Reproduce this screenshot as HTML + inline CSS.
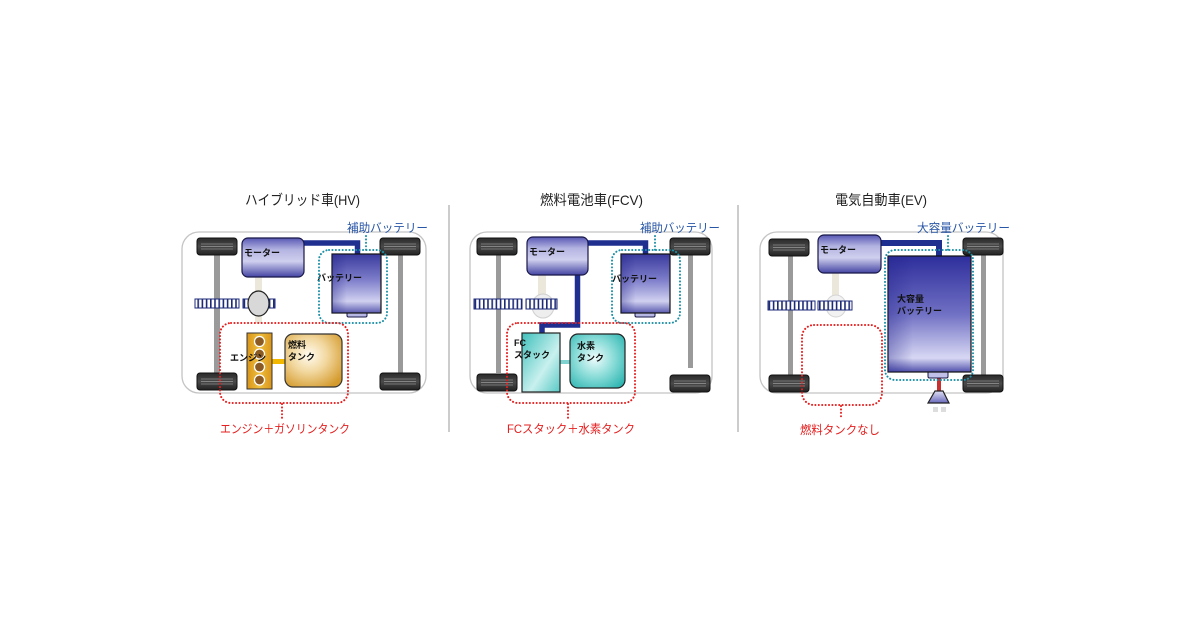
<!DOCTYPE html>
<html><head><meta charset="utf-8">
<style>
html,body{margin:0;padding:0;background:#fff;}
svg{display:block;}
text{font-family:"Liberation Sans","Noto Sans CJK JP",sans-serif;}
.t{font-size:14px;fill:#222;}
.lb{font-size:12px;fill:#2856a6;}
.lr{font-size:12px;fill:#e61e1e;}
.in{font-size:9px;font-weight:bold;fill:#111;}
</style></head>
<body>
<svg width="1200" height="630" viewBox="0 0 1200 630" xmlns="http://www.w3.org/2000/svg">
<defs>
  <linearGradient id="mot" x1="0" y1="0" x2="0" y2="1">
    <stop offset="0" stop-color="#5858b4"/><stop offset="0.3" stop-color="#b4b4e2"/>
    <stop offset="0.6" stop-color="#cfcfee"/><stop offset="1" stop-color="#4444a4"/>
  </linearGradient>
  <linearGradient id="bat" x1="0" y1="0" x2="0" y2="1">
    <stop offset="0" stop-color="#3a3a9e"/><stop offset="0.45" stop-color="#8080cc"/>
    <stop offset="0.8" stop-color="#d0d0f0"/><stop offset="1" stop-color="#5a5ab0"/>
  </linearGradient>
  <linearGradient id="batx" x1="0" y1="0" x2="1" y2="0">
    <stop offset="0" stop-color="#20208a" stop-opacity="0.35"/><stop offset="0.3" stop-color="#20208a" stop-opacity="0"/>
  </linearGradient>
  <linearGradient id="big" x1="0" y1="0" x2="0" y2="1">
    <stop offset="0" stop-color="#2e2e9c"/><stop offset="0.5" stop-color="#7070c4"/>
    <stop offset="0.88" stop-color="#d8d8f4"/><stop offset="1" stop-color="#5050ac"/>
  </linearGradient>
  <linearGradient id="eng" x1="0" y1="0" x2="1" y2="0">
    <stop offset="0" stop-color="#d89418"/><stop offset="0.5" stop-color="#f0c040"/><stop offset="1" stop-color="#d89418"/>
  </linearGradient>
  <radialGradient id="ftank" cx="0.42" cy="0.4" r="0.7">
    <stop offset="0" stop-color="#fffbf0"/><stop offset="0.45" stop-color="#f2d8a0"/><stop offset="1" stop-color="#d49a2c"/>
  </radialGradient>
  <radialGradient id="htank" cx="0.45" cy="0.45" r="0.7">
    <stop offset="0" stop-color="#eefcfc"/><stop offset="0.5" stop-color="#8adcd8"/><stop offset="1" stop-color="#2cb4b0"/>
  </radialGradient>
  <linearGradient id="fc" x1="0" y1="0" x2="1" y2="1">
    <stop offset="0" stop-color="#40c0bc"/><stop offset="0.6" stop-color="#c8f0ee"/><stop offset="1" stop-color="#58c8c4"/>
  </linearGradient>
  <linearGradient id="tire" x1="0" y1="0" x2="0" y2="1">
    <stop offset="0" stop-color="#2a2a2a"/><stop offset="0.5" stop-color="#4a4a4a"/><stop offset="1" stop-color="#222"/>
  </linearGradient>
  <linearGradient id="cone" x1="0" y1="0" x2="0" y2="1">
    <stop offset="0" stop-color="#e0e0f6"/><stop offset="1" stop-color="#6a6abc"/>
  </linearGradient>
  <pattern id="gear" width="4.2" height="10" patternUnits="userSpaceOnUse">
    <rect width="4.2" height="10" fill="#fff"/><rect width="1.6" height="10" fill="#1c2a78"/>
  </pattern>
  <g id="tireG">
    <rect x="0" y="0" width="40" height="17" rx="3" fill="url(#tire)" stroke="#111" stroke-width="1"/>
    <line x1="4" y1="6" x2="36" y2="6" stroke="#888" stroke-width="0.8"/>
    <line x1="4" y1="8.5" x2="36" y2="8.5" stroke="#999" stroke-width="0.8"/>
    <line x1="4" y1="11" x2="36" y2="11" stroke="#888" stroke-width="0.8"/>
  </g>
</defs>

<!-- dividers -->
<line x1="449" y1="205" x2="449" y2="432" stroke="#bbb" stroke-width="1.5"/>
<line x1="738" y1="205" x2="738" y2="432" stroke="#bbb" stroke-width="1.5"/>

<!-- ================= PANEL 1 HV ================= -->
<text class="t" x="245" y="205" textLength="115" lengthAdjust="spacingAndGlyphs">ハイブリッド車(HV)</text>
<rect x="182" y="232" width="244" height="161" rx="17" fill="#fff" stroke="#c4c4c4" stroke-width="1.3"/>
<rect x="214" y="255" width="6" height="118" fill="#9a9a9a"/>
<rect x="398" y="255" width="5" height="118" fill="#9a9a9a"/>
<use href="#tireG" x="197" y="238"/>
<use href="#tireG" x="197" y="373"/>
<use href="#tireG" x="380" y="238"/>
<use href="#tireG" x="380" y="373"/>
<rect x="255" y="277" width="7" height="46" fill="#ebe7da"/>
<rect x="195" y="299" width="44" height="9" fill="url(#gear)" stroke="#1c2a78" stroke-width="1"/>
<rect x="243" y="299" width="32" height="9" fill="url(#gear)" stroke="#1c2a78" stroke-width="1"/>
<ellipse cx="258.5" cy="303.5" rx="10.5" ry="12.5" fill="#d8d8d8" stroke="#222" stroke-width="1.2"/>
<path d="M303 243 H357.5 V255" fill="none" stroke="#1e2f8f" stroke-width="5.5"/>
<rect x="242" y="238" width="62" height="39" rx="6" fill="url(#mot)" stroke="#181848" stroke-width="1.2"/>
<text class="in" x="244" y="256">モーター</text>
<rect x="347" y="311" width="20" height="6" rx="1.5" fill="#b8b8e4" stroke="#181848" stroke-width="1"/>
<rect x="332" y="254" width="49" height="59" fill="url(#bat)" stroke="#111" stroke-width="1.2"/>
<rect x="332" y="254" width="49" height="59" fill="url(#batx)"/>
<text class="in" x="317" y="281">バッテリー</text>
<rect x="319" y="250" width="68" height="73" rx="10" fill="none" stroke="#1a8fa6" stroke-width="2" stroke-dasharray="0.1 3.3" stroke-linecap="round"/>
<line x1="366" y1="236" x2="366" y2="250" stroke="#1a8fa6" stroke-width="2" stroke-dasharray="0.1 3.3" stroke-linecap="round"/>
<text class="lb" x="347" y="232" textLength="81" lengthAdjust="spacingAndGlyphs">補助バッテリー</text>
<!-- engine -->
<rect x="272" y="359" width="13" height="5" fill="#f2b800"/>
<rect x="247" y="333" width="25" height="56" fill="url(#eng)" stroke="#333" stroke-width="1"/>
<circle cx="259.5" cy="341.5" r="5" fill="#8a5a22" stroke="#fff" stroke-width="1.3"/>
<circle cx="259.5" cy="354" r="5" fill="#8a5a22" stroke="#fff" stroke-width="1.3"/>
<circle cx="259.5" cy="367" r="5" fill="#8a5a22" stroke="#fff" stroke-width="1.3"/>
<circle cx="259.5" cy="380" r="5" fill="#8a5a22" stroke="#fff" stroke-width="1.3"/>
<text class="in" x="230" y="361">エンジン</text>
<rect x="285" y="334" width="57" height="53" rx="8" fill="url(#ftank)" stroke="#333" stroke-width="1.2"/>
<text class="in" x="288" y="348">燃料</text>
<text class="in" x="288" y="360">タンク</text>
<rect x="220" y="323" width="128" height="80" rx="11" fill="none" stroke="#e61e1e" stroke-width="2" stroke-dasharray="0.1 3.3" stroke-linecap="round"/>
<line x1="282" y1="404" x2="282" y2="418" stroke="#e61e1e" stroke-width="2" stroke-dasharray="0.1 3.3" stroke-linecap="round"/>
<text class="lr" x="220" y="433" textLength="130" lengthAdjust="spacingAndGlyphs">エンジン＋ガソリンタンク</text>

<!-- ================= PANEL 2 FCV ================= -->
<text class="t" x="540" y="205" textLength="103" lengthAdjust="spacingAndGlyphs">燃料電池車(FCV)</text>
<rect x="470" y="232" width="242" height="161" rx="17" fill="#fff" stroke="#c4c4c4" stroke-width="1.3"/>
<rect x="496" y="255" width="5" height="118" fill="#9a9a9a"/>
<rect x="688" y="255" width="5" height="113" fill="#9a9a9a"/>
<use href="#tireG" x="477" y="238"/>
<use href="#tireG" x="477" y="374"/>
<use href="#tireG" x="670" y="238"/>
<use href="#tireG" x="670" y="375"/>
<rect x="538" y="275" width="8" height="25" fill="#ebe7da"/>
<rect x="474" y="299" width="48" height="10" fill="url(#gear)" stroke="#1c2a78" stroke-width="1"/>
<ellipse cx="543" cy="306" rx="11" ry="12" fill="#eeeeee" stroke="#d0d0d0" stroke-width="1"/>
<rect x="526" y="299" width="31" height="10" fill="url(#gear)" stroke="#1c2a78" stroke-width="1"/>
<path d="M587 243 H645.5 V255" fill="none" stroke="#1e2f8f" stroke-width="5.5"/>
<path d="M577.5 274 V325 H542 V334" fill="none" stroke="#1e2f8f" stroke-width="5.5"/>
<rect x="527" y="237" width="61" height="38" rx="6" fill="url(#mot)" stroke="#181848" stroke-width="1.2"/>
<text class="in" x="529" y="255">モーター</text>
<rect x="635" y="311" width="20" height="6" rx="1.5" fill="#b8b8e4" stroke="#181848" stroke-width="1"/>
<rect x="621" y="254" width="49" height="59" fill="url(#bat)" stroke="#111" stroke-width="1.2"/>
<rect x="621" y="254" width="49" height="59" fill="url(#batx)"/>
<text class="in" x="612" y="282">バッテリー</text>
<rect x="612" y="250" width="68" height="73" rx="10" fill="none" stroke="#1a8fa6" stroke-width="2" stroke-dasharray="0.1 3.3" stroke-linecap="round"/>
<line x1="655" y1="236" x2="655" y2="250" stroke="#1a8fa6" stroke-width="2" stroke-dasharray="0.1 3.3" stroke-linecap="round"/>
<text class="lb" x="640" y="232" textLength="80" lengthAdjust="spacingAndGlyphs">補助バッテリー</text>
<rect x="560" y="360" width="10" height="4" fill="#80d2d0"/>
<rect x="522" y="333" width="38" height="59" fill="url(#fc)" stroke="#222" stroke-width="1.2"/>
<text class="in" x="514" y="346">FC</text>
<text class="in" x="514" y="358">スタック</text>
<rect x="570" y="334" width="55" height="54" rx="8" fill="url(#htank)" stroke="#222" stroke-width="1.2"/>
<text class="in" x="577" y="349">水素</text>
<text class="in" x="577" y="361">タンク</text>
<rect x="507" y="323" width="128" height="80" rx="11" fill="none" stroke="#e61e1e" stroke-width="2" stroke-dasharray="0.1 3.3" stroke-linecap="round"/>
<line x1="568" y1="404" x2="568" y2="418" stroke="#e61e1e" stroke-width="2" stroke-dasharray="0.1 3.3" stroke-linecap="round"/>
<text class="lr" x="507" y="433" textLength="128" lengthAdjust="spacingAndGlyphs">FCスタック＋水素タンク</text>

<!-- ================= PANEL 3 EV ================= -->
<text class="t" x="835" y="205" textLength="92" lengthAdjust="spacingAndGlyphs">電気自動車(EV)</text>
<rect x="760" y="232" width="243" height="161" rx="17" fill="#fff" stroke="#c4c4c4" stroke-width="1.3"/>
<rect x="788" y="255" width="5" height="120" fill="#9a9a9a"/>
<rect x="981" y="255" width="5" height="120" fill="#9a9a9a"/>
<use href="#tireG" x="769" y="239"/>
<use href="#tireG" x="769" y="375"/>
<use href="#tireG" x="963" y="238"/>
<use href="#tireG" x="963" y="375"/>
<rect x="832" y="273" width="7" height="24" fill="#ebe7da"/>
<ellipse cx="836" cy="306" rx="10" ry="11" fill="#f2f2f2" stroke="#d4d4d4" stroke-width="1"/>
<rect x="768" y="301" width="47" height="9" fill="url(#gear)" stroke="#1c2a78" stroke-width="1"/>
<rect x="818" y="301" width="34" height="9" fill="url(#gear)" stroke="#1c2a78" stroke-width="1"/>
<path d="M880 243 H939 V257" fill="none" stroke="#1e2f8f" stroke-width="6"/>
<rect x="818" y="235" width="63" height="38" rx="6" fill="url(#mot)" stroke="#181848" stroke-width="1.2"/>
<text class="in" x="820" y="253">モーター</text>
<rect x="937" y="377" width="4" height="15" fill="#c83030"/>
<rect x="928" y="371" width="20" height="7" rx="1.5" fill="#c0c0e8" stroke="#181848" stroke-width="1"/>
<rect x="888" y="256" width="83" height="116" fill="url(#big)" stroke="#111" stroke-width="1.2"/>
<rect x="888" y="256" width="83" height="116" fill="url(#batx)"/>
<text class="in" x="897" y="302">大容量</text>
<text class="in" x="897" y="314">バッテリー</text>
<polygon points="935,391 943,391 949,403 928,403" fill="url(#cone)" stroke="#222" stroke-width="1.2"/>
<rect x="933" y="407" width="5" height="5" fill="#ddd"/>
<rect x="941" y="407" width="5" height="5" fill="#ddd"/>
<rect x="885" y="250" width="88" height="130" rx="10" fill="none" stroke="#1a8fa6" stroke-width="2" stroke-dasharray="0.1 3.3" stroke-linecap="round"/>
<line x1="948" y1="236" x2="948" y2="250" stroke="#1a8fa6" stroke-width="2" stroke-dasharray="0.1 3.3" stroke-linecap="round"/>
<text class="lb" x="917" y="232" textLength="93" lengthAdjust="spacingAndGlyphs">大容量バッテリー</text>
<rect x="802" y="325" width="80" height="80" rx="12" fill="none" stroke="#e61e1e" stroke-width="2" stroke-dasharray="0.1 3.3" stroke-linecap="round"/>
<line x1="841" y1="406" x2="841" y2="419" stroke="#e61e1e" stroke-width="2" stroke-dasharray="0.1 3.3" stroke-linecap="round"/>
<text class="lr" x="800" y="434" textLength="80" lengthAdjust="spacingAndGlyphs">燃料タンクなし</text>
</svg>
</body></html>
